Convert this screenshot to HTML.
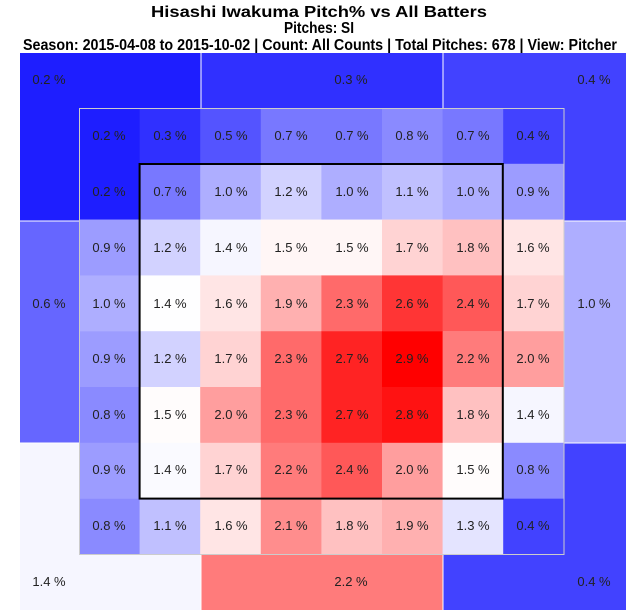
<!DOCTYPE html>
<html><head><meta charset="utf-8"><style>
html,body{margin:0;padding:0;background:#fff;}
svg{display:block;font-family:"Liberation Sans",Arial,sans-serif;}
.t{font-weight:bold;font-size:16px;fill:#000;text-anchor:middle}
.l{font-size:13px;fill:#222;text-anchor:middle}
</style></head><body>
<svg width="638" height="611" viewBox="0 0 638 611" xmlns="http://www.w3.org/2000/svg">
<text class="t" x="319" y="17" textLength="336" lengthAdjust="spacingAndGlyphs">Hisashi Iwakuma Pitch% vs All Batters</text>
<text class="t" x="319" y="33" textLength="70" lengthAdjust="spacingAndGlyphs">Pitches: SI</text>
<text class="t" x="320" y="50" textLength="594" lengthAdjust="spacingAndGlyphs">Season: 2015-04-08 to 2015-10-02 | Count: All Counts | Total Pitches: 678 | View: Pitcher</text>
<g stroke="none">
<rect x="20" y="53" width="181" height="55" fill="rgb(30,30,255)"/>
<rect x="20" y="108" width="59" height="113" fill="rgb(30,30,255)"/>
<rect x="201" y="53" width="242" height="55" fill="rgb(48,48,255)"/>
<rect x="443" y="53" width="183" height="55" fill="rgb(66,66,255)"/>
<rect x="564" y="108" width="62" height="113" fill="rgb(66,66,255)"/>
<rect x="20" y="221" width="59" height="222" fill="rgb(102,102,255)"/>
<rect x="564" y="221" width="62" height="222" fill="rgb(174,174,255)"/>
<rect x="20" y="443" width="59" height="167" fill="rgb(246,246,255)"/>
<rect x="20" y="554" width="181" height="56" fill="rgb(246,246,255)"/>
<rect x="201" y="554" width="242" height="56" fill="rgb(255,123,123)"/>
<rect x="564" y="443" width="62" height="167" fill="rgb(66,66,255)"/>
<rect x="443" y="554" width="183" height="56" fill="rgb(66,66,255)"/>
</g>
<g stroke="#fff" stroke-width="1">
<line x1="201" y1="53" x2="201" y2="108"/><line x1="443" y1="53" x2="443" y2="108"/>
<line x1="201" y1="554" x2="201" y2="610"/><line x1="443" y1="554" x2="443" y2="610"/>
<line x1="20" y1="221" x2="79" y2="221"/><line x1="20" y1="443" x2="79" y2="443"/>
<line x1="564" y1="221" x2="626" y2="221"/><line x1="564" y1="443" x2="626" y2="443"/>
</g>
<g stroke="none">
<!-- row0 -->
<rect x="79" y="108" width="61" height="56" fill="rgb(30,30,255)"/>
<rect x="139.6" y="108" width="61" height="56" fill="rgb(48,48,255)"/>
<rect x="200.2" y="108" width="61" height="56" fill="rgb(84,84,255)"/>
<rect x="260.8" y="108" width="61" height="56" fill="rgb(120,120,255)"/>
<rect x="321.4" y="108" width="61" height="56" fill="rgb(120,120,255)"/>
<rect x="382" y="108" width="61" height="56" fill="rgb(138,138,255)"/>
<rect x="442.6" y="108" width="61" height="56" fill="rgb(120,120,255)"/>
<rect x="503.2" y="108" width="60.8" height="56" fill="rgb(66,66,255)"/>
<!-- row1 -->
<rect x="79" y="163.8" width="61" height="56" fill="rgb(30,30,255)"/>
<rect x="139.6" y="163.8" width="61" height="56" fill="rgb(120,120,255)"/>
<rect x="200.2" y="163.8" width="61" height="56" fill="rgb(174,174,255)"/>
<rect x="260.8" y="163.8" width="61" height="56" fill="rgb(210,210,255)"/>
<rect x="321.4" y="163.8" width="61" height="56" fill="rgb(174,174,255)"/>
<rect x="382" y="163.8" width="61" height="56" fill="rgb(192,192,255)"/>
<rect x="442.6" y="163.8" width="61" height="56" fill="rgb(174,174,255)"/>
<rect x="503.2" y="163.8" width="60.8" height="56" fill="rgb(156,156,255)"/>
<!-- row2 -->
<rect x="79" y="219.6" width="61" height="56" fill="rgb(156,156,255)"/>
<rect x="139.6" y="219.6" width="61" height="56" fill="rgb(210,210,255)"/>
<rect x="200.2" y="219.6" width="61" height="56" fill="rgb(246,246,255)"/>
<rect x="260.8" y="219.6" width="61" height="56" fill="rgb(255,246,246)"/>
<rect x="321.4" y="219.6" width="61" height="56" fill="rgb(255,246,246)"/>
<rect x="382" y="219.6" width="61" height="56" fill="rgb(255,211,211)"/>
<rect x="442.6" y="219.6" width="61" height="56" fill="rgb(255,193,193)"/>
<rect x="503.2" y="219.6" width="60.8" height="56" fill="rgb(255,229,229)"/>
<!-- row3 -->
<rect x="79" y="275.4" width="61" height="56" fill="rgb(174,174,255)"/>
<rect x="139.6" y="275.4" width="61" height="56" fill="rgb(254,254,255)"/>
<rect x="200.2" y="275.4" width="61" height="56" fill="rgb(255,229,229)"/>
<rect x="260.8" y="275.4" width="61" height="56" fill="rgb(255,176,176)"/>
<rect x="321.4" y="275.4" width="61" height="56" fill="rgb(255,106,106)"/>
<rect x="382" y="275.4" width="61" height="56" fill="rgb(255,53,53)"/>
<rect x="442.6" y="275.4" width="61" height="56" fill="rgb(255,88,88)"/>
<rect x="503.2" y="275.4" width="60.8" height="56" fill="rgb(255,211,211)"/>
<!-- row4 -->
<rect x="79" y="331.2" width="61" height="56" fill="rgb(156,156,255)"/>
<rect x="139.6" y="331.2" width="61" height="56" fill="rgb(210,210,255)"/>
<rect x="200.2" y="331.2" width="61" height="56" fill="rgb(255,211,211)"/>
<rect x="260.8" y="331.2" width="61" height="56" fill="rgb(255,106,106)"/>
<rect x="321.4" y="331.2" width="61" height="56" fill="rgb(255,35,35)"/>
<rect x="382" y="331.2" width="61" height="56" fill="rgb(255,0,0)"/>
<rect x="442.6" y="331.2" width="61" height="56" fill="rgb(255,123,123)"/>
<rect x="503.2" y="331.2" width="60.8" height="56" fill="rgb(255,158,158)"/>
<!-- row5 -->
<rect x="79" y="387" width="61" height="56" fill="rgb(138,138,255)"/>
<rect x="139.6" y="387" width="61" height="56" fill="rgb(255,252,252)"/>
<rect x="200.2" y="387" width="61" height="56" fill="rgb(255,158,158)"/>
<rect x="260.8" y="387" width="61" height="56" fill="rgb(255,106,106)"/>
<rect x="321.4" y="387" width="61" height="56" fill="rgb(255,35,35)"/>
<rect x="382" y="387" width="61" height="56" fill="rgb(255,18,18)"/>
<rect x="442.6" y="387" width="61" height="56" fill="rgb(255,193,193)"/>
<rect x="503.2" y="387" width="60.8" height="56" fill="rgb(246,246,255)"/>
<!-- row6 -->
<rect x="79" y="442.8" width="61" height="56" fill="rgb(156,156,255)"/>
<rect x="139.6" y="442.8" width="61" height="56" fill="rgb(250,250,255)"/>
<rect x="200.2" y="442.8" width="61" height="56" fill="rgb(255,211,211)"/>
<rect x="260.8" y="442.8" width="61" height="56" fill="rgb(255,123,123)"/>
<rect x="321.4" y="442.8" width="61" height="56" fill="rgb(255,88,88)"/>
<rect x="382" y="442.8" width="61" height="56" fill="rgb(255,158,158)"/>
<rect x="442.6" y="442.8" width="61" height="56" fill="rgb(255,252,252)"/>
<rect x="503.2" y="442.8" width="60.8" height="56" fill="rgb(138,138,255)"/>
<!-- row7 -->
<rect x="79" y="498.6" width="61" height="55.8" fill="rgb(138,138,255)"/>
<rect x="139.6" y="498.6" width="61" height="55.8" fill="rgb(192,192,255)"/>
<rect x="200.2" y="498.6" width="61" height="55.8" fill="rgb(255,229,229)"/>
<rect x="260.8" y="498.6" width="61" height="55.8" fill="rgb(255,141,141)"/>
<rect x="321.4" y="498.6" width="61" height="55.8" fill="rgb(255,193,193)"/>
<rect x="382" y="498.6" width="61" height="55.8" fill="rgb(255,176,176)"/>
<rect x="442.6" y="498.6" width="61" height="55.8" fill="rgb(228,228,255)"/>
<rect x="503.2" y="498.6" width="60.8" height="55.8" fill="rgb(66,66,255)"/>
</g>
<rect x="79.5" y="108.5" width="484.5" height="446" fill="none" stroke="#ccc" stroke-width="1"/>
<rect x="139.6" y="164" width="363.2" height="334.6" fill="none" stroke="#000" stroke-width="2"/>
<g class="l">
<text class="l" x="49" y="84">0.2 %</text>
<text class="l" x="351" y="84">0.3 %</text>
<text class="l" x="594" y="84">0.4 %</text>
<text class="l" x="49" y="308">0.6 %</text>
<text class="l" x="594" y="308">1.0 %</text>
<text class="l" x="49" y="586">1.4 %</text>
<text class="l" x="351" y="586">2.2 %</text>
<text class="l" x="594" y="586">0.4 %</text>

<text class="l" x="109" y="140">0.2 %</text><text class="l" x="170" y="140">0.3 %</text><text class="l" x="231" y="140">0.5 %</text><text class="l" x="291" y="140">0.7 %</text><text class="l" x="352" y="140">0.7 %</text><text class="l" x="412" y="140">0.8 %</text><text class="l" x="473" y="140">0.7 %</text><text class="l" x="533" y="140">0.4 %</text>
<text class="l" x="109" y="196">0.2 %</text><text class="l" x="170" y="196">0.7 %</text><text class="l" x="231" y="196">1.0 %</text><text class="l" x="291" y="196">1.2 %</text><text class="l" x="352" y="196">1.0 %</text><text class="l" x="412" y="196">1.1 %</text><text class="l" x="473" y="196">1.0 %</text><text class="l" x="533" y="196">0.9 %</text>
<text class="l" x="109" y="252">0.9 %</text><text class="l" x="170" y="252">1.2 %</text><text class="l" x="231" y="252">1.4 %</text><text class="l" x="291" y="252">1.5 %</text><text class="l" x="352" y="252">1.5 %</text><text class="l" x="412" y="252">1.7 %</text><text class="l" x="473" y="252">1.8 %</text><text class="l" x="533" y="252">1.6 %</text>
<text class="l" x="109" y="308">1.0 %</text><text class="l" x="170" y="308">1.4 %</text><text class="l" x="231" y="308">1.6 %</text><text class="l" x="291" y="308">1.9 %</text><text class="l" x="352" y="308">2.3 %</text><text class="l" x="412" y="308">2.6 %</text><text class="l" x="473" y="308">2.4 %</text><text class="l" x="533" y="308">1.7 %</text>
<text class="l" x="109" y="363">0.9 %</text><text class="l" x="170" y="363">1.2 %</text><text class="l" x="231" y="363">1.7 %</text><text class="l" x="291" y="363">2.3 %</text><text class="l" x="352" y="363">2.7 %</text><text class="l" x="412" y="363">2.9 %</text><text class="l" x="473" y="363">2.2 %</text><text class="l" x="533" y="363">2.0 %</text>
<text class="l" x="109" y="419">0.8 %</text><text class="l" x="170" y="419">1.5 %</text><text class="l" x="231" y="419">2.0 %</text><text class="l" x="291" y="419">2.3 %</text><text class="l" x="352" y="419">2.7 %</text><text class="l" x="412" y="419">2.8 %</text><text class="l" x="473" y="419">1.8 %</text><text class="l" x="533" y="419">1.4 %</text>
<text class="l" x="109" y="474">0.9 %</text><text class="l" x="170" y="474">1.4 %</text><text class="l" x="231" y="474">1.7 %</text><text class="l" x="291" y="474">2.2 %</text><text class="l" x="352" y="474">2.4 %</text><text class="l" x="412" y="474">2.0 %</text><text class="l" x="473" y="474">1.5 %</text><text class="l" x="533" y="474">0.8 %</text>
<text class="l" x="109" y="530">0.8 %</text><text class="l" x="170" y="530">1.1 %</text><text class="l" x="231" y="530">1.6 %</text><text class="l" x="291" y="530">2.1 %</text><text class="l" x="352" y="530">1.8 %</text><text class="l" x="412" y="530">1.9 %</text><text class="l" x="473" y="530">1.3 %</text><text class="l" x="533" y="530">0.4 %</text>
</g>
</svg>
</body></html>
